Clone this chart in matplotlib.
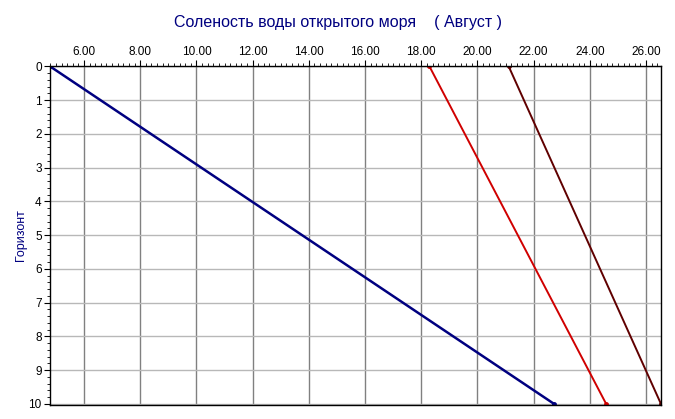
import matplotlib.pyplot as plt
from matplotlib.ticker import MultipleLocator, StrMethodFormatter

plt.rcParams["font.family"] = ["Liberation Sans", "DejaVu Sans"]

# Depth horizons and salinity values for each line
horizons = [0, 10]
salinity_blue = [4.79, 22.73]
salinity_red = [18.29, 24.58]
salinity_brown = [21.11, 26.53]

fig = plt.figure(figsize=(6.75, 4.19), dpi=100)
ax = fig.add_axes([50 / 675, 1 - 405 / 419, 611 / 675, 339 / 419])

ax.plot(salinity_blue, horizons, color="#000080", linewidth=1.8, marker="o", markersize=2.5)
ax.plot(salinity_red, horizons, color="#d00000", linewidth=1.4, marker="o", markersize=2.5)
ax.plot(salinity_brown, horizons, color="#600000", linewidth=1.4, marker="o", markersize=2.5)

ax.set_xlim(4.79, 26.53)
ax.set_ylim(10.03, -0.01)

ax.xaxis.tick_top()
ax.xaxis.set_major_locator(MultipleLocator(2))
ax.xaxis.set_minor_locator(MultipleLocator(0.2))
ax.xaxis.set_major_formatter(StrMethodFormatter("{x:.2f}"))
ax.yaxis.set_major_locator(MultipleLocator(1))
ax.yaxis.set_minor_locator(MultipleLocator(0.2))

ax.tick_params(axis="x", which="major", direction="out", length=4, labelsize=8.5, pad=2)
ax.tick_params(axis="x", which="minor", direction="out", length=2.5)
ax.tick_params(axis="y", which="major", direction="out", length=4, labelsize=8.5, pad=2)
ax.tick_params(axis="y", which="minor", direction="out", length=2.5)

ax.grid(True, axis="x", which="major", color="#808080", linewidth=1)
ax.grid(True, axis="y", which="major", color="#b8b8b8", linewidth=1)
ax.set_axisbelow(True)

for s in ax.spines.values():
    s.set_color("black")
    s.set_linewidth(1)

ax.set_ylabel("Горизонт", color="#000080", fontsize=9, labelpad=1)
fig.text(0.5, 1 - 22 / 419, "Соленость воды открытого моря    ( Август )",
         color="#000080", fontsize=11.5, ha="center", va="center")

fig.savefig("out.png", dpi=100)
